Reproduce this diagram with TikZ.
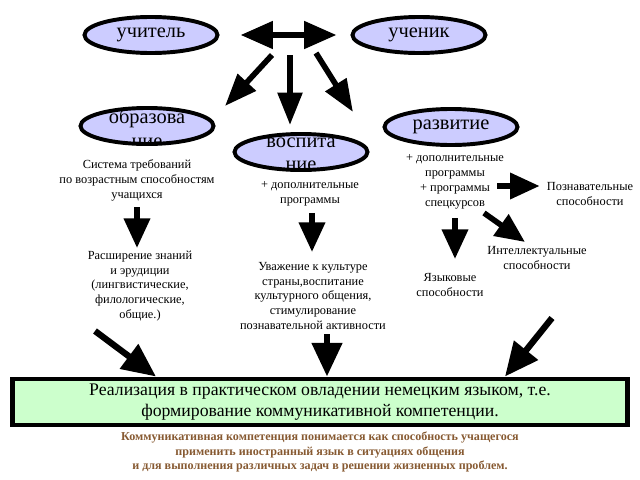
\documentclass[tikz,border=0pt]{standalone}
\usepackage{fontspec}
\setmainfont{Liberation Serif}
\usetikzlibrary{arrows.meta,shapes.geometric,calc,positioning}

\definecolor{ovalfill}{RGB}{204,204,255}
\definecolor{boxfill}{RGB}{204,255,204}
\definecolor{brownish}{RGB}{135,90,50}

\begin{document}
\begin{tikzpicture}[x=0.025cm,y=-0.025cm,
    oval/.style={ellipse,draw,line width=2.8pt,fill=ovalfill,minimum width=3.325cm,
        minimum height=0.9cm,inner sep=0pt,font=\fontsize{14.5}{16}\selectfont},
    clipped/.style={path picture={\node[align=center,font=\fontsize{14.5}{16.5}\selectfont]
        at ([yshift=-0.06cm]path picture bounding box.center) {#1};}},
    small/.style={align=center,inner sep=1pt,font=\fontsize{8.8}{10.6}\selectfont},
    toparr/.style={line width=4pt,-{Triangle[length=23pt,width=17pt]}},
    blk/.style={line width=4pt,-{Triangle[length=21pt,width=18pt]}},
    bigarr/.style={line width=4.5pt,-{Triangle[length=24pt,width=21pt]}}]

    \useasboundingbox (0,0) rectangle (640,480);

    % ovals
    \node[oval] (uchitel) at (151,35) {учитель};
    \node[oval] (uchenik) at (419,35) {ученик};
    \node[oval,clipped={образова\\ние}] (obraz) at (147,126) {};
    \node[oval,clipped={воспита\\ние}] (vospit) at (301,152) {};
    \node[oval] (razvit) at (451,127) {развитие};

    % teacher <-> pupil
    \draw[line width=4pt,{Triangle[length=23pt,width=19pt]}-{Triangle[length=23pt,width=19pt]},
        shorten <=15pt,shorten >=10pt] (uchitel) -- (uchenik);

    \coordinate (h1) at (272,55);
    \coordinate (h2) at (290,55);
    \coordinate (h3) at (316,53);
    \coordinate (t1) at (225,106);
    \coordinate (t2) at (290,125);
    \coordinate (t3) at (353,112);
    \draw[toparr] (h1) -- (t1);
    \draw[toparr] (h2) -- (t2);
    \draw[toparr] (h3) -- (t3);

    % left column
    \node[small] (sistema) at (137,180) {Система требований\\по возрастным способностям\\учащихся};
    \node[small] (rasshir) at (140,286) {Расширение знаний\\и эрудиции\\(лингвистические,\\филологические,\\общие.)};
    \draw[blk] (sistema.south -| 137,0) ++(0,5) -- (137,248);

    % middle column
    \node[small] (dopprog) at (310,194) {+ дополнительные\\программы};
    \node[small] (uvazh) at (313,296) {Уважение к культуре\\страны,воспитание\\культурного общения,\\стимулирование\\познавательной активности};
    \draw[blk] (dopprog.south -| 312,0) ++(0,5) -- (312,252);

    % right column
    \node[small] (dopspec) at (455,182) {+ дополнительные\\программы\\+ программы\\спецкурсов};
    \node[small] (poznav) at (590,194) {Познавательные\\способности};
    \node[small] (yazyk) at (450,285) {Языковые\\способности};
    \node[small] (intell) at (537,258) {Интеллектуальные\\способности};
    \draw[blk,shorten >=4pt] (497,186) -- (poznav.west |- 0,186);
    \draw[blk] (455,218) -- (455,259);
    \draw[blk] (484,213) -- (525,242);

    % result box
    \node[draw,line width=3.5pt,fill=boxfill,minimum width=15.375cm,minimum height=1.15cm,
        align=center,font=\fontsize{12.6}{15}\selectfont] (realiz) at (320,402)
        {Реализация в практическом овладении немецким языком, т.е.\\формирование коммуникативной компетенции.};

    \coordinate (b1) at (95,331);
    \coordinate (b2) at (327,334);
    \coordinate (b3) at (552,318);
    \draw[bigarr] (b1) -- (realiz.north -| 156,0);
    \draw[bigarr] (b2) -- (realiz.north -| 327,0);
    \draw[bigarr] (b3) -- (realiz.north -| 505,0);

    \node[align=center,text=brownish,font=\bfseries\fontsize{8.6}{10.3}\selectfont] (komm) at (320,452)
        {Коммуникативная компетенция понимается как способность учащегося\\применить иностранный язык в ситуациях общения\\и для выполнения различных задач в решении жизненных проблем.};
\end{tikzpicture}
\end{document}
